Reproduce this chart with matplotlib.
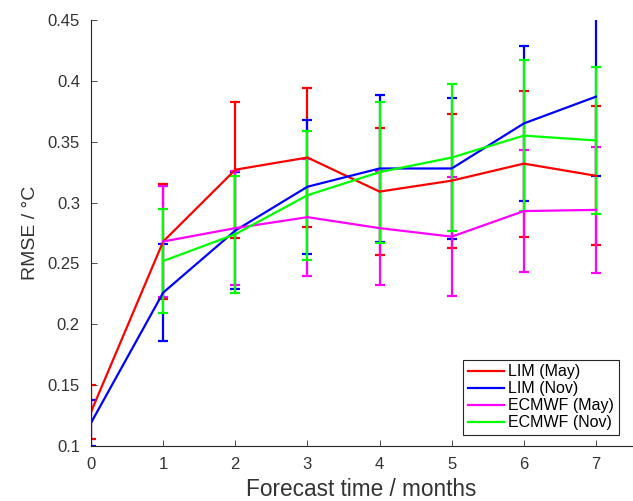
import matplotlib

matplotlib.use('Agg')
import matplotlib.pyplot as plt
from matplotlib.lines import Line2D
import numpy as np

plt.rcParams['font.family'] = ['Liberation Sans', 'DejaVu Sans']

# forecast lead times
lead_lim = [0, 1, 2, 3, 4, 5, 6, 7]
lead_ecmwf = [1, 2, 3, 4, 5, 6, 7]

# RMSE and error bar half-widths
lim_may = [0.128, 0.268, 0.327, 0.337, 0.309, 0.318, 0.332, 0.322]
lim_may_err = [0.022, 0.047, 0.056, 0.057, 0.052, 0.055, 0.060, 0.057]
lim_nov = [0.119, 0.226, 0.277, 0.313, 0.328, 0.328, 0.365, 0.387]
lim_nov_err = [0.019, 0.040, 0.048, 0.055, 0.060, 0.058, 0.064, 0.065]
ecmwf_may = [0.268, 0.279, 0.288, 0.279, 0.272, 0.293, 0.294]
ecmwf_may_err = [0.046, 0.047, 0.048, 0.047, 0.049, 0.050, 0.052]
ecmwf_nov = [0.252, 0.274, 0.306, 0.325, 0.337, 0.355, 0.351]
ecmwf_nov_err = [0.043, 0.048, 0.053, 0.058, 0.060, 0.062, 0.060]

series = [
    (lead_lim, lim_may, lim_may_err, '#ff0000', 'LIM (May)'),
    (lead_lim, lim_nov, lim_nov_err, '#0000ff', 'LIM (Nov)'),
    (lead_ecmwf, ecmwf_may, ecmwf_may_err, '#ff00ff', 'ECMWF (May)'),
    (lead_ecmwf, ecmwf_nov, ecmwf_nov_err, '#00ff00', 'ECMWF (Nov)'),
]

fig = plt.figure(figsize=(6.33, 5.01), dpi=100)
ax = fig.add_axes([0.1438, 0.1098, 0.8547, 0.8503])

handles = []
for x, y, e, col, lab in series:
    ax.errorbar(x, y, yerr=e, color=col, lw=1.6, elinewidth=1.6,
                capsize=3.8, capthick=1.6)
    handles.append(Line2D([], [], color=col, lw=1.6, label=lab))

ax.set_xlim(0, 7.5)
ax.set_ylim(0.1, 0.45)
ax.set_xticks(range(8))
ax.set_yticks(np.arange(0.1, 0.451, 0.05))
ax.set_yticklabels(['0.1', '0.15', '0.2', '0.25', '0.3', '0.35', '0.4', '0.45'])

for side in ['top', 'right']:
    ax.spines[side].set_visible(False)
for side in ['left', 'bottom']:
    ax.spines[side].set_color('#262626')
    ax.spines[side].set_linewidth(0.8)
ax.tick_params(direction='in', length=4, width=0.6, colors='#333333',
               labelsize=12, pad=8)

ax.set_xlabel('Forecast time / months', fontsize=16.3, color='#333333', labelpad=4)
ax.set_ylabel('RMSE / °C', fontsize=14, color='#333333', labelpad=6)

leg = ax.legend(handles=handles, loc='lower right', bbox_to_anchor=(0.976, 0.026),
                fontsize=11.5, handlelength=2.25, handletextpad=0.3, borderpad=0.3,
                labelspacing=0.12, fancybox=False, framealpha=1,
                edgecolor='#262626', borderaxespad=0)
leg.get_frame().set_linewidth(0.8)

fig.savefig('out.png', dpi=100)
